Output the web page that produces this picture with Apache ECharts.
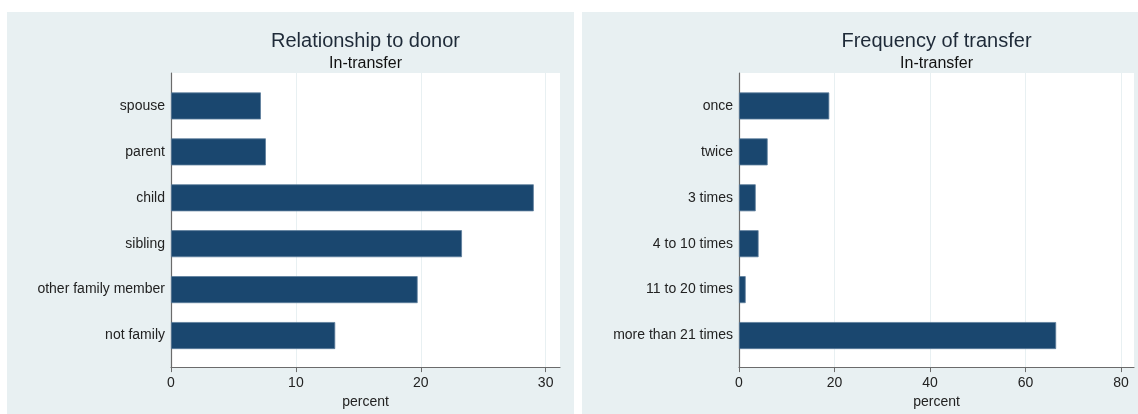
<!DOCTYPE html>
<html>
<head>
<meta charset="utf-8">
<script src="https://cdn.jsdelivr.net/npm/echarts@6/dist/echarts.min.js"></script>
<style>
  html, body { margin: 0; padding: 0; background: #fff; }
  #wrap { position: relative; width: 1138px; height: 414px; }
  .panel { position: absolute; background: #e8f0f2; }
  #chart { position: absolute; left: 0; top: 0; width: 1138px; height: 414px; }
</style>
</head>
<body>
<div id="wrap">
  <div class="panel" style="left:7px;top:12px;width:567px;height:402px"></div>
  <div class="panel" style="left:582px;top:12px;width:556px;height:402px"></div>
  <div id="chart"></div>
</div>
<script>
// data (percent)
const relationCats = ['spouse', 'parent', 'child', 'sibling', 'other family member', 'not family'];
const relationPct = [7.2, 7.6, 29.05, 23.3, 19.75, 13.15];

const freqCats = ['once', 'twice', '3 times', '4 to 10 times', '11 to 20 times', 'more than 21 times'];
const freqPct = [18.9, 6.0, 3.5, 4.1, 1.4, 66.4];

const titles = ['Relationship to donor', 'Frequency of transfer'];
const subtitle = 'In-transfer';
const axisName = 'percent';

const font = '"Liberation Sans", Arial, sans-serif';
const barColor = '#1a476f';
const axisColor = '#6b6b6b';
const gridColor = '#e8f0f2';

// panel layout: plot area (white) and inner band for the bars
const panels = [
  { left: 171, right: 560, max: 31.15, interval: 10, cats: relationCats, vals: relationPct },
  { left: 739, right: 1134, max: 82.7, interval: 20, cats: freqCats, vals: freqPct }
];
const plotTop = 73, plotBottom = 369;
const barTop = 83, barBottom = 358.5;

const grid = [], xAxis = [], yAxis = [], series = [], title = [];

panels.forEach((p, i) => {
  const w = p.right - p.left;
  // background grid: white plot region, x axis, gridlines
  grid.push({ left: p.left, top: plotTop, width: w, height: plotBottom - plotTop,
    show: true, backgroundColor: '#fff', borderWidth: 0 });
  // bar grid
  grid.push({ left: p.left, top: barTop, width: w, height: barBottom - barTop });

  xAxis.push({
    gridIndex: i * 2, type: 'value', min: 0, max: p.max, interval: p.interval,
    axisLine: { show: true, lineStyle: { color: axisColor, width: 1.2 } },
    axisTick: { show: true, length: 5, lineStyle: { color: axisColor } },
    axisLabel: { color: '#222', fontSize: 14, fontFamily: font, margin: 9, showMaxLabel: false },
    splitLine: { show: true, lineStyle: { color: gridColor, width: 1 } },
    name: axisName, nameLocation: 'middle', nameGap: 25,
    nameTextStyle: { color: '#222', fontSize: 14, fontFamily: font }
  });
  xAxis.push({ gridIndex: i * 2 + 1, type: 'value', min: 0, max: p.max, show: false });

  yAxis.push({
    gridIndex: i * 2, type: 'value', min: 0, max: 1,
    axisLine: { show: true, lineStyle: { color: axisColor, width: 1.2 } },
    axisTick: { show: false }, axisLabel: { show: false }, splitLine: { show: false }
  });
  yAxis.push({
    gridIndex: i * 2 + 1, type: 'category', inverse: true, data: p.cats,
    axisLine: { show: false }, axisTick: { show: false }, splitLine: { show: false },
    axisLabel: { color: '#222', fontSize: 14, fontFamily: font, margin: 6 }
  });

  series.push({
    type: 'bar', xAxisIndex: i * 2 + 1, yAxisIndex: i * 2 + 1,
    data: p.vals, barWidth: 27,
    itemStyle: { color: barColor, borderColor: '#5d7e9c', borderWidth: 0.8 },
    silent: true
  });

  title.push({
    text: titles[i], subtext: subtitle,
    left: (p.left + p.right) / 2, top: 31, textAlign: 'center', itemGap: 5, padding: 0,
    textStyle: { color: '#1e2a38', fontSize: 20, fontWeight: 'normal', fontFamily: font },
    subtextStyle: { color: '#111', fontSize: 16, fontFamily: font }
  });
});

const chart = echarts.init(document.getElementById('chart'), null, { renderer: 'canvas' });
chart.setOption({
  backgroundColor: 'transparent',
  animation: false,
  title: title,
  grid: grid,
  xAxis: xAxis,
  yAxis: yAxis,
  series: series
});
</script>
</body>
</html>
